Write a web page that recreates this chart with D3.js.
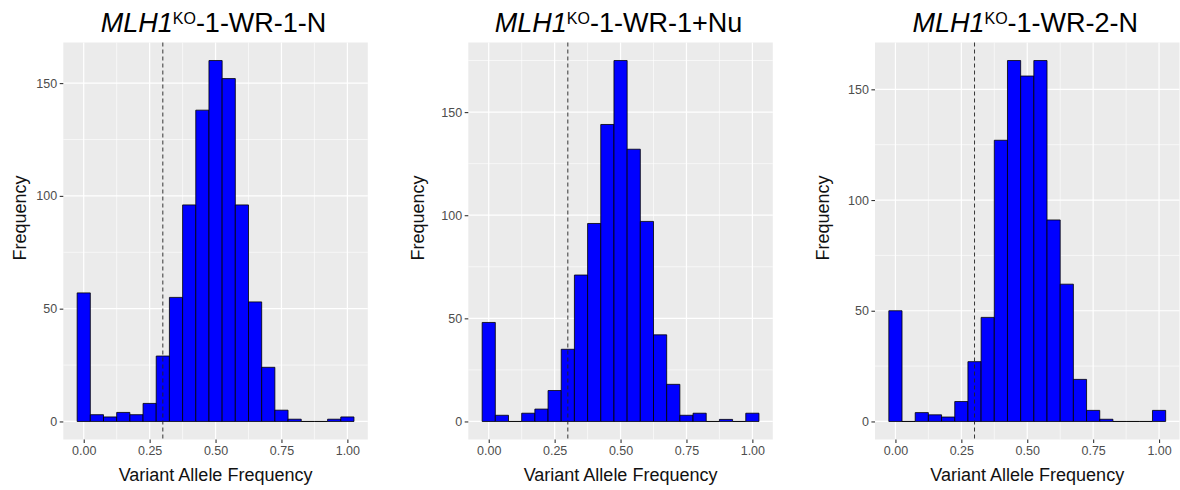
<!DOCTYPE html>
<html>
<head>
<meta charset="utf-8">
<script src="https://cdn.jsdelivr.net/npm/d3@7"></script>
<style>
  body { margin: 0; background: #fff; }
  svg { display: block; font-family: "Liberation Sans", Arial, sans-serif; }
</style>
</head>
<body>
<div id="chart"></div>
<script>
// bin centres (binwidth 0.05)
const bins = [0.00, 0.05, 0.10, 0.15, 0.20, 0.25, 0.30, 0.35, 0.40, 0.45, 0.50,
              0.55, 0.60, 0.65, 0.70, 0.75, 0.80, 0.85, 0.90, 0.95, 1.00];
const sampleNames = ["-1-WR-1-N", "-1-WR-1+Nu", "-1-WR-2-N"];
const countsWR1N  = [57, 3, 2, 4, 3, 8, 29, 55, 96, 138, 160, 152, 96, 53, 24, 5, 1, 0, 0, 1, 2];
const countsWR1Nu = [48, 3, 0, 4, 6, 15, 35, 71, 96, 144, 175, 132, 97, 42, 18, 3, 4, 0, 1, 0, 4];
const countsWR2N  = [50, 0, 4, 3, 2, 9, 27, 47, 127, 163, 156, 163, 91, 62, 19, 5, 1, 0, 0, 0, 5];
const xTicks = [0, 0.25, 0.50, 0.75, 1.00];
const yTicks = [0, 50, 100, 150];
const cutoff = 0.3;

const allCounts = [countsWR1N, countsWR1Nu, countsWR2N];

//constants
const width = 1180, height = 490;
const binW = 0.05;
const panelTop = 42.5, panelH = 397, panelW = 304.5;
const panelLefts = [63.3, 468.3, 875];
const yTitleX = [20, 417.5, 822.5];
const fontFam = "'Liberation Sans', Arial, sans-serif";

const svg = d3.select("#chart")
  .append("svg")
  .attr("width", width)
  .attr("height", height);

allCounts.forEach((counts, i) => {
  const left = panelLefts[i];

  //scales - ggplot style 5% expansion
  const xMin = bins[0] - binW/2, xMax = bins[bins.length-1] + binW/2;
  const xPad = (xMax - xMin) * 0.05;
  const x = d3.scaleLinear()
    .domain([xMin - xPad, xMax + xPad])
    .range([left, left + panelW]);

  const maxC = d3.max(counts);
  const y = d3.scaleLinear()
    .domain([-maxC*0.05, maxC*1.05])
    .range([panelTop + panelH, panelTop]);

  const g = svg.append("g");

  //panel background
  g.append("rect")
    .attr("x", left).attr("y", panelTop)
    .attr("width", panelW).attr("height", panelH)
    .attr("fill", "#EBEBEB");

  //minor grid
  const xMinor = d3.range(-0.125, 1.2, 0.25).filter(v => x(v) > left && x(v) < left + panelW);
  const yMinor = d3.range(25, maxC*1.05, 50);
  g.selectAll("line.xminor").data(xMinor).join("line")
    .attr("x1", d => x(d)).attr("x2", d => x(d))
    .attr("y1", panelTop).attr("y2", panelTop + panelH)
    .attr("stroke", "#fff").attr("stroke-width", 0.6);
  g.selectAll("line.yminor").data(yMinor).join("line")
    .attr("x1", left).attr("x2", left + panelW)
    .attr("y1", d => y(d)).attr("y2", d => y(d))
    .attr("stroke", "#fff").attr("stroke-width", 0.6);

  //major grid
  g.selectAll("line.xmajor").data(xTicks).join("line")
    .attr("x1", d => x(d)).attr("x2", d => x(d))
    .attr("y1", panelTop).attr("y2", panelTop + panelH)
    .attr("stroke", "#fff").attr("stroke-width", 1.2);
  g.selectAll("line.ymajor").data(yTicks).join("line")
    .attr("x1", left).attr("x2", left + panelW)
    .attr("y1", d => y(d)).attr("y2", d => y(d))
    .attr("stroke", "#fff").attr("stroke-width", 1.2);

  //bars (empty bins still show as a flat outline at zero)
  g.selectAll("path.bar")
    .data(bins.map((b, j) => ({bin: b, count: counts[j]})))
    .join("path")
    .attr("class", "bar")
    .attr("d", d => {
      const x0 = x(d.bin - binW/2), x1 = x(d.bin + binW/2);
      const y0 = y(0), y1 = y(d.count);
      return `M${x0},${y0}L${x0},${y1}L${x1},${y1}L${x1},${y0}Z`;
    })
    .attr("fill", "#0000FF")
    .attr("stroke", "#000")
    .attr("stroke-width", 0.8);

  //cutoff line
  g.append("line")
    .attr("x1", x(cutoff)).attr("x2", x(cutoff))
    .attr("y1", panelTop).attr("y2", panelTop + panelH)
    .attr("stroke", "#222").attr("stroke-width", 0.9)
    .attr("stroke-dasharray", "4,3");

  //axes
  const xAxis = g.append("g")
    .attr("transform", `translate(0,${panelTop + panelH})`)
    .call(d3.axisBottom(x).tickValues(xTicks).tickFormat(d3.format(".2f")).tickSize(3.6).tickPadding(3));
  const yAxis = g.append("g")
    .attr("transform", `translate(${left},0)`)
    .call(d3.axisLeft(y).tickValues(yTicks).tickSize(3.6).tickPadding(2.5));

  [xAxis, yAxis].forEach(ax => {
    ax.attr("font-size", 12.5).attr("font-family", fontFam);
    ax.select(".domain").remove();
    ax.selectAll(".tick line").attr("stroke", "#333").attr("stroke-width", 1.1);
    ax.selectAll(".tick text").attr("fill", "#4D4D4D");
  });

  //axis titles
  g.append("text")
    .attr("x", left + panelW/2)
    .attr("y", 481)
    .attr("text-anchor", "middle")
    .attr("font-size", 18)
    .attr("fill", "#111")
    .text("Variant Allele Frequency");

  g.append("text")
    .attr("transform", `translate(${yTitleX[i] + 6},218) rotate(-90)`)
    .attr("text-anchor", "middle")
    .attr("font-size", 18)
    .attr("fill", "#111")
    .text("Frequency");

  //title
  const t = g.append("text")
    .attr("x", left + panelW/2 - 2)
    .attr("y", 32)
    .attr("text-anchor", "middle")
    .attr("font-size", 27)
    .attr("fill", "#000");
  t.append("tspan").style("font-style", "italic").text("MLH1");
  t.append("tspan").attr("dy", -8).attr("font-size", 16).text("KO");
  t.append("tspan").attr("dy", 8).text(sampleNames[i]);
});
</script>
</body>
</html>
